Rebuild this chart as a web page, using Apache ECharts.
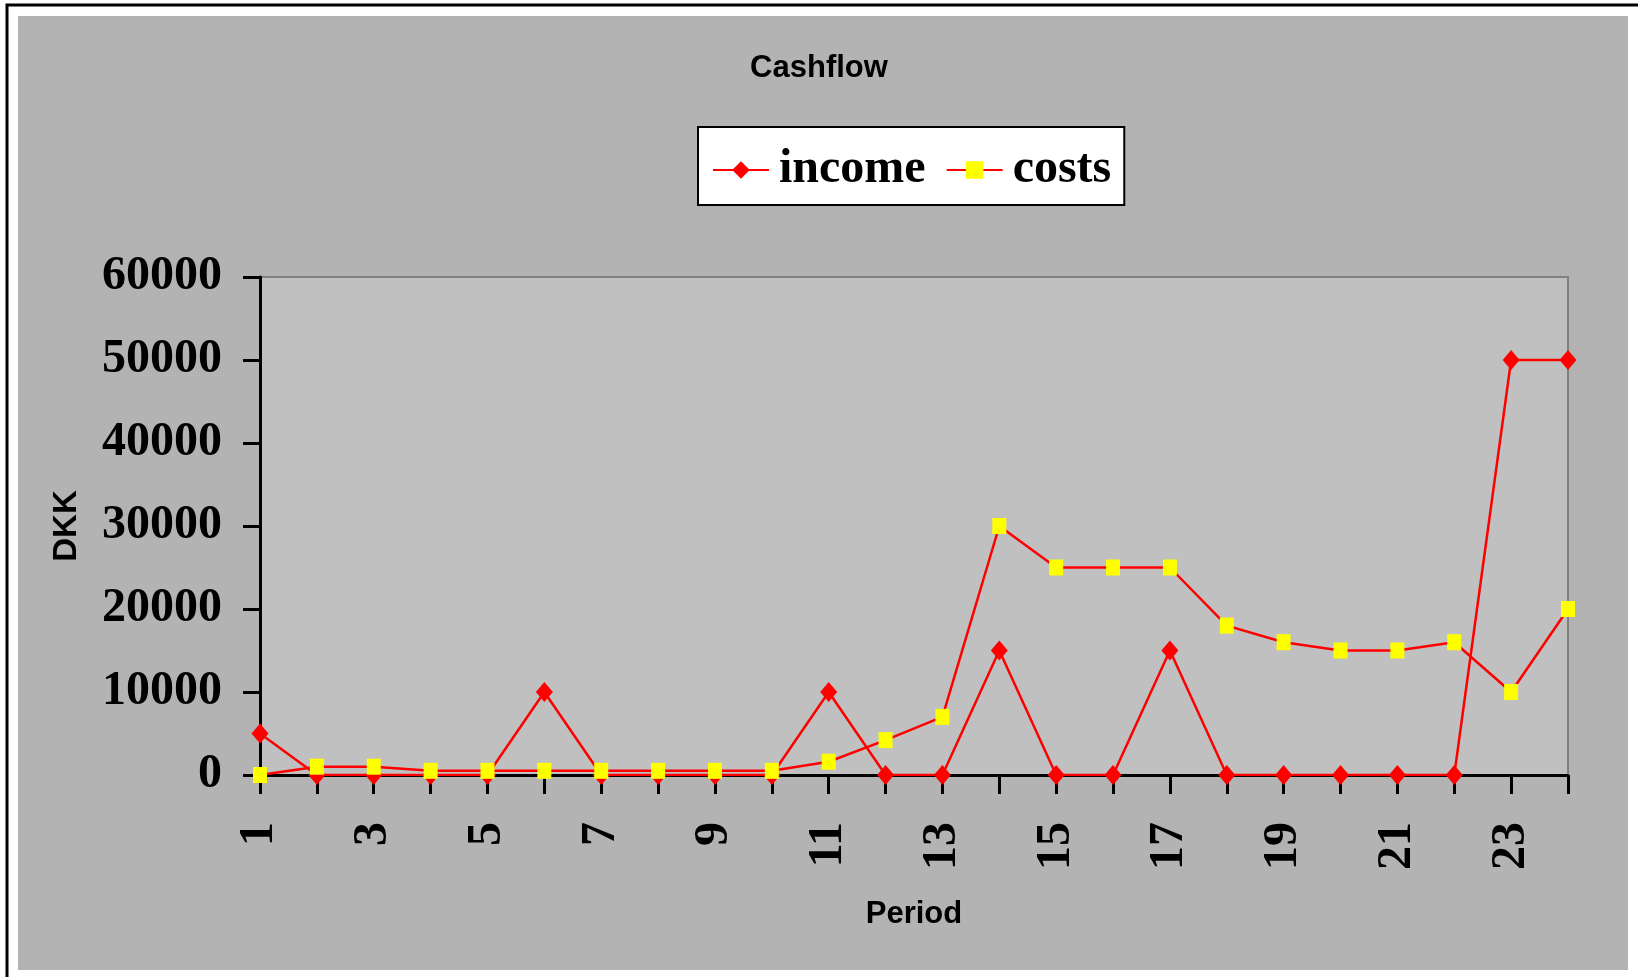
<!DOCTYPE html>
<html>
<head>
<meta charset="utf-8">
<title>Cashflow</title>
<script src="https://cdn.jsdelivr.net/npm/echarts@6/dist/echarts.min.js"></script>
<style>
  html, body { margin: 0; padding: 0; background: #fff; }
  #chart { width: 1638px; height: 977px; }
</style>
</head>
<body>
<div id="chart"></div>
<script>
// periods 1..24
var periods = ['1','2','3','4','5','6','7','8','9','10','11','12','13','14','15','16','17','18','19','20','21','22','23','24'];
var income = [5000, 0, 0, 0, 0, 10000, 0, 0, 0, 0, 10000, 0, 0, 15000, 0, 0, 15000, 0, 0, 0, 0, 0, 50000, 50000];
var costs = [0, 1000, 1000, 500, 500, 500, 500, 500, 500, 500, 1600, 4200, 7000, 30000, 25000, 25000, 25000, 18000, 16000, 15000, 15000, 16000, 10000, 20000];
var yTicks = { min: 0, max: 60000, interval: 10000 };

var serif = '"Liberation Serif", "Times New Roman", serif';
var sans = '"Liberation Sans", Arial, sans-serif';

var myChart = echarts.init(document.getElementById('chart'));
var option = {
    backgroundColor: '#ffffff',
    animation: false,
    graphic: [
        {
            // outer frame (only top/left visible)
            type: 'rect', z: -20, silent: true,
            shape: { x: 7, y: 5, width: 1700, height: 1000 },
            style: { fill: '#ffffff', stroke: '#000000', lineWidth: 3 }
        },
        {
            type: 'rect', z: -10, silent: true,
            shape: { x: 18, y: 16, width: 1610, height: 954 },
            style: { fill: '#b3b3b3' }
        }
    ],
    title: {
        text: 'Cashflow',
        left: 'center',
        top: 48,
        textStyle: { fontFamily: sans, fontWeight: 'bold', fontSize: 31, color: '#000' }
    },
    legend: {
        left: 698,
        top: 127,
        backgroundColor: '#ffffff',
        borderColor: '#000000',
        borderWidth: 2,
        borderRadius: 0,
        padding: [19, 13, 11, 14],
        itemWidth: 56,
        itemHeight: 22,
        itemGap: 20,
        textStyle: { fontFamily: serif, fontWeight: 'bold', fontSize: 48, color: '#000', padding: [0, 0, 0, 5] },
        data: ['income', 'costs']
    },
    grid: {
        left: 260,
        right: 70,
        top: 277,
        bottom: 202,
        show: true,
        backgroundColor: '#c0c0c0',
        borderColor: '#808080',
        borderWidth: 2
    },
    xAxis: {
        type: 'category',
        boundaryGap: false,
        data: periods,
        name: 'Period',
        nameLocation: 'middle',
        nameGap: 124,
        nameTextStyle: { fontFamily: sans, fontWeight: 'bold', fontSize: 31, color: '#000' },
        axisLine: { lineStyle: { color: '#000', width: 3 } },
        axisTick: { interval: 0, length: 19, lineStyle: { color: '#000', width: 3 } },
        axisLabel: {
            interval: 1,
            rotate: 90,
            margin: 47,
            fontFamily: serif,
            fontWeight: 'bold',
            fontSize: 48,
            color: '#000'
        },
        splitLine: { show: false }
    },
    yAxis: {
        type: 'value',
        min: yTicks.min,
        max: yTicks.max,
        interval: yTicks.interval,
        name: 'DKK',
        nameLocation: 'middle',
        nameRotate: 90,
        nameGap: 177,
        nameTextStyle: { fontFamily: sans, fontWeight: 'bold', fontSize: 33, color: '#000' },
        axisLine: { show: true, lineStyle: { color: '#000', width: 3 } },
        axisTick: { show: true, length: 17, lineStyle: { color: '#000', width: 3 } },
        axisLabel: {
            margin: 38,
            formatter: function (v) { return String(v); },
            fontFamily: serif,
            fontWeight: 'bold',
            fontSize: 48,
            color: '#000'
        },
        splitLine: { show: false }
    },
    series: [
        {
            name: 'income',
            type: 'line',
            data: income,
            symbol: 'diamond',
            symbolSize: [17, 20],
            lineStyle: { color: '#ff0000', width: 2.5 },
            itemStyle: { color: '#ff0000' }
        },
        {
            name: 'costs',
            type: 'line',
            data: costs,
            symbol: 'rect',
            symbolSize: [14, 16],
            lineStyle: { color: '#ff0000', width: 2.5 },
            itemStyle: { color: '#ffff00' }
        }
    ]
};
myChart.setOption(option);
window.addEventListener('resize', function () {
    myChart.resize();
});
</script>
</body>
</html>
